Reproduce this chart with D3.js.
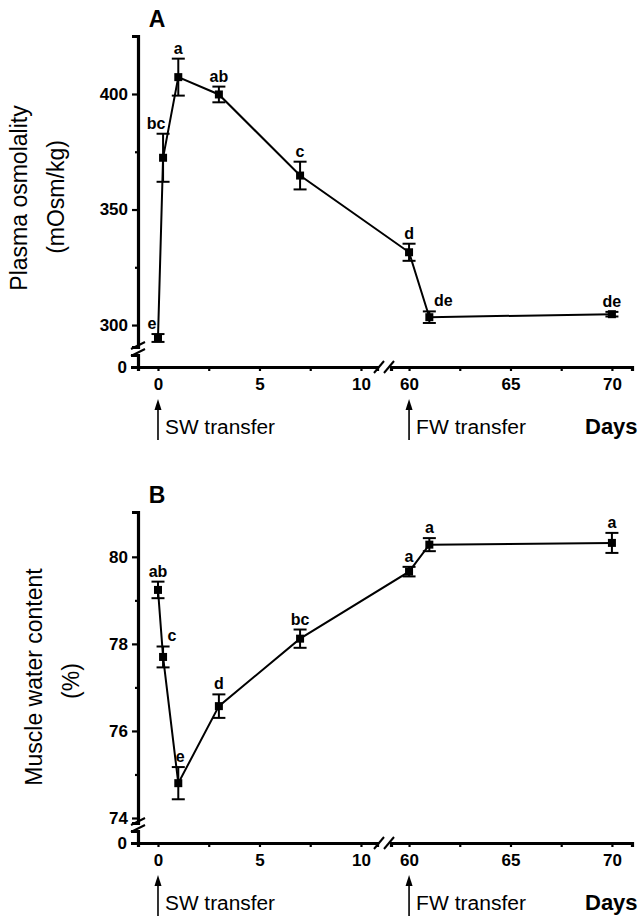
<!DOCTYPE html>
<html>
<head>
<meta charset="utf-8">
<script src="https://cdn.jsdelivr.net/npm/d3@7"></script>
<style>
  body { margin: 0; background: #fff; }
  svg { display: block; font-family: "Liberation Sans", Arial, sans-serif; }
</style>
</head>
<body>
<svg id="chart" width="640" height="918"></svg>
<script>
// sampling days (0.25 = 6 h after transfer)
const days = [0, 0.25, 1, 3, 7, 60, 61, 70];

// panel A: plasma osmolality (mOsm/kg)
const plasmaMean = [294.4, 372.4, 407.3, 399.8, 364.7, 331.5, 303.4, 304.7];
const plasmaErr = [1.7, 10.4, 8.0, 3.4, 6.0, 3.7, 2.5, 1.0];
const plasmaLetters = ['e', 'bc', 'a', 'ab', 'c', 'd', 'de', 'de'];
const plasmaTicks = [300, 325, 350, 375, 400];
const plasmaLabels = [300, 350, 400];
const plasmaDomain = [290.5, 425.1];

// panel B: muscle water content (%)
const waterMean = [79.24, 77.70, 74.80, 76.57, 78.12, 79.66, 80.28, 80.32];
const waterErr = [0.19, 0.24, 0.37, 0.27, 0.21, 0.11, 0.15, 0.23];
const waterLetters = ['ab', 'c', 'e', 'd', 'bc', 'a', 'a', 'a'];
const waterTicks = [74, 75, 76, 77, 78, 79, 80];
const waterLabels = [74, 76, 78, 80];
const waterDomain = [73.885, 81.03];

// broken x axis
const xTicksLeft = [0, 2.5, 5, 7.5, 10];
const xTicksRight = [60, 62.5, 65, 67.5, 70];
const xDomainLeft = [-0.985, 10.79];
const xDomainRight = [59.11, 70.99];

const svg = d3.select('#chart');

const xL = d3.scaleLinear().domain(xDomainLeft).range([138, 377]);
const xR = d3.scaleLinear().domain(xDomainRight).range([391, 632]);
const xPos = d => d <= xDomainLeft[1] ? xL(d) : xR(d);

const axisY0 = 367;   // x-axis baseline inside a panel

function drawPanel(cfg) {
  const g = svg.append('g').attr('transform', `translate(0,${cfg.offset})`);

  const y = d3.scaleLinear().domain(cfg.domain).range([347, 36]);

  // y axis (upper part)
  const yAxis = d3.axisLeft(y)
    .tickValues(cfg.ticks)
    .tickSizeOuter(0)
    .tickSize(6)
    .tickPadding(4)
    .tickFormat(d => cfg.labels.includes(d) ? d : '');
  const yG = g.append('g').attr('transform', 'translate(138,0)').call(yAxis);
  yG.selectAll('.tick').filter(d => !cfg.labels.includes(d))
    .select('line').attr('x2', -3);

  // y axis lower stub with the "0"
  const yZero = d3.scaleLinear().domain([0, 1]).range([axisY0, 355]);
  const zG = g.append('g').attr('transform', 'translate(138,0)')
    .call(d3.axisLeft(yZero).tickValues([0]).tickFormat(d3.format('d'))
      .tickSizeOuter(0).tickSize(7).tickPadding(4));

  // x axis, two segments
  const xa = g.append('g').attr('transform', `translate(0,${axisY0})`)
    .call(d3.axisBottom(xL).tickValues(xTicksLeft).tickSizeOuter(0).tickSize(4).tickPadding(7)
      .tickFormat(d => d % 5 === 0 ? d : ''));
  const xb = g.append('g').attr('transform', `translate(0,${axisY0})`)
    .call(d3.axisBottom(xR).tickValues(xTicksRight).tickSizeOuter(0).tickSize(4).tickPadding(7)
      .tickFormat(d => d % 5 === 0 ? d : ''));

  [yG, zG, xa, xb].forEach(a => {
    a.attr('font-family', null).attr('font-size', null);
    a.select('.domain').attr('stroke-width', 3.2);
    a.selectAll('.tick line').attr('stroke-width', 2.2);
    a.selectAll('.tick text')
      .style('font-size', '17px').style('font-weight', 'bold').attr('fill', '#000');
  });

  // break marks
  const brk = g.append('g').attr('stroke', '#000').attr('stroke-width', 2).attr('fill', 'none');
  [[131, 349, 145, 342], [131, 356, 145, 349]].forEach(s =>
    brk.append('line').attr('x1', s[0]).attr('y1', s[1]).attr('x2', s[2]).attr('y2', s[3]));
  [[374, 373, 384, 361], [384, 373, 394, 361]].forEach(s =>
    brk.append('line').attr('x1', s[0]).attr('y1', s[1]).attr('x2', s[2]).attr('y2', s[3]));

  // data line
  const pts = days.map((d, i) => ({ d, m: cfg.mean[i], e: cfg.err[i], lab: cfg.letters[i], i }));
  g.append('path')
    .datum(pts)
    .attr('fill', 'none')
    .attr('stroke', '#000')
    .attr('stroke-width', 2)
    .attr('d', d3.line().x(p => xPos(p.d)).y(p => y(p.m)));

  // error bars
  const eb = g.append('g').attr('stroke', '#000').attr('stroke-width', 2);
  pts.forEach(p => {
    const cx = xPos(p.d);
    eb.append('line').attr('x1', cx).attr('x2', cx).attr('y1', y(p.m + p.e)).attr('y2', y(p.m - p.e));
    [p.m + p.e, p.m - p.e].forEach(v =>
      eb.append('line').attr('x1', cx - 6.5).attr('x2', cx + 6.5).attr('y1', y(v)).attr('y2', y(v)));
  });

  // markers
  g.selectAll('rect.pt').data(pts).join('rect')
    .attr('class', 'pt')
    .attr('x', p => xPos(p.d) - 4)
    .attr('y', p => y(p.m) - 4)
    .attr('width', 8).attr('height', 8)
    .attr('fill', '#000');

  // significance letters
  g.selectAll('text.sig').data(pts).join('text')
    .attr('class', 'sig')
    .attr('x', p => xPos(p.d) + (cfg.nudge[p.i] || 0))
    .attr('y', p => y(p.m + p.e) - 5)
    .attr('text-anchor', 'middle')
    .style('font-size', '16px').style('font-weight', 'bold')
    .text(p => p.lab);

  // panel letter
  g.append('text').attr('x', 157).attr('y', 27).attr('text-anchor', 'middle')
    .style('font-size', '23px').style('font-weight', 'bold').text(cfg.panel);

  // y titles
  cfg.titles.forEach(t =>
    g.append('text')
      .attr('transform', `translate(${t.x},${t.y}) rotate(-90)`)
      .attr('text-anchor', 'middle')
      .style('font-size', '23px')
      .text(t.text));

  // transfer arrows
  [[xL(0), 'SW transfer'], [xR(60), 'FW transfer']].forEach(([ax, label]) => {
    g.append('line').attr('x1', ax).attr('x2', ax).attr('y1', 408).attr('y2', 440)
      .attr('stroke', '#000').attr('stroke-width', 1.6);
    g.append('path').attr('d', `M${ax},399 L${ax - 3.5},410 L${ax + 3.5},410 Z`).attr('fill', '#000');
    g.append('text').attr('x', ax + 7).attr('y', 434)
      .attr('textLength', 110).attr('lengthAdjust', 'spacingAndGlyphs')
      .style('font-size', '20px').text(label);
  });

  g.append('text').attr('x', 585).attr('y', 434)
    .style('font-size', '22px').style('font-weight', 'bold').text('Days');
}

drawPanel({
  offset: 0, panel: 'A', domain: plasmaDomain, ticks: plasmaTicks, labels: plasmaLabels,
  mean: plasmaMean, err: plasmaErr, letters: plasmaLetters,
  nudge: { 0: -6, 1: -7, 6: 14 },
  titles: [{ x: 27, y: 198, text: 'Plasma osmolality' }, { x: 64, y: 197, text: '(mOsm/kg)' }]
});

drawPanel({
  offset: 476, panel: 'B', domain: waterDomain, ticks: waterTicks, labels: waterLabels,
  mean: waterMean, err: waterErr, letters: waterLetters,
  nudge: { 1: 9, 2: 2 },
  titles: [{ x: 42, y: 201, text: 'Muscle water content' }, { x: 79, y: 205, text: '(%)' }]
});
</script>
</body>
</html>
